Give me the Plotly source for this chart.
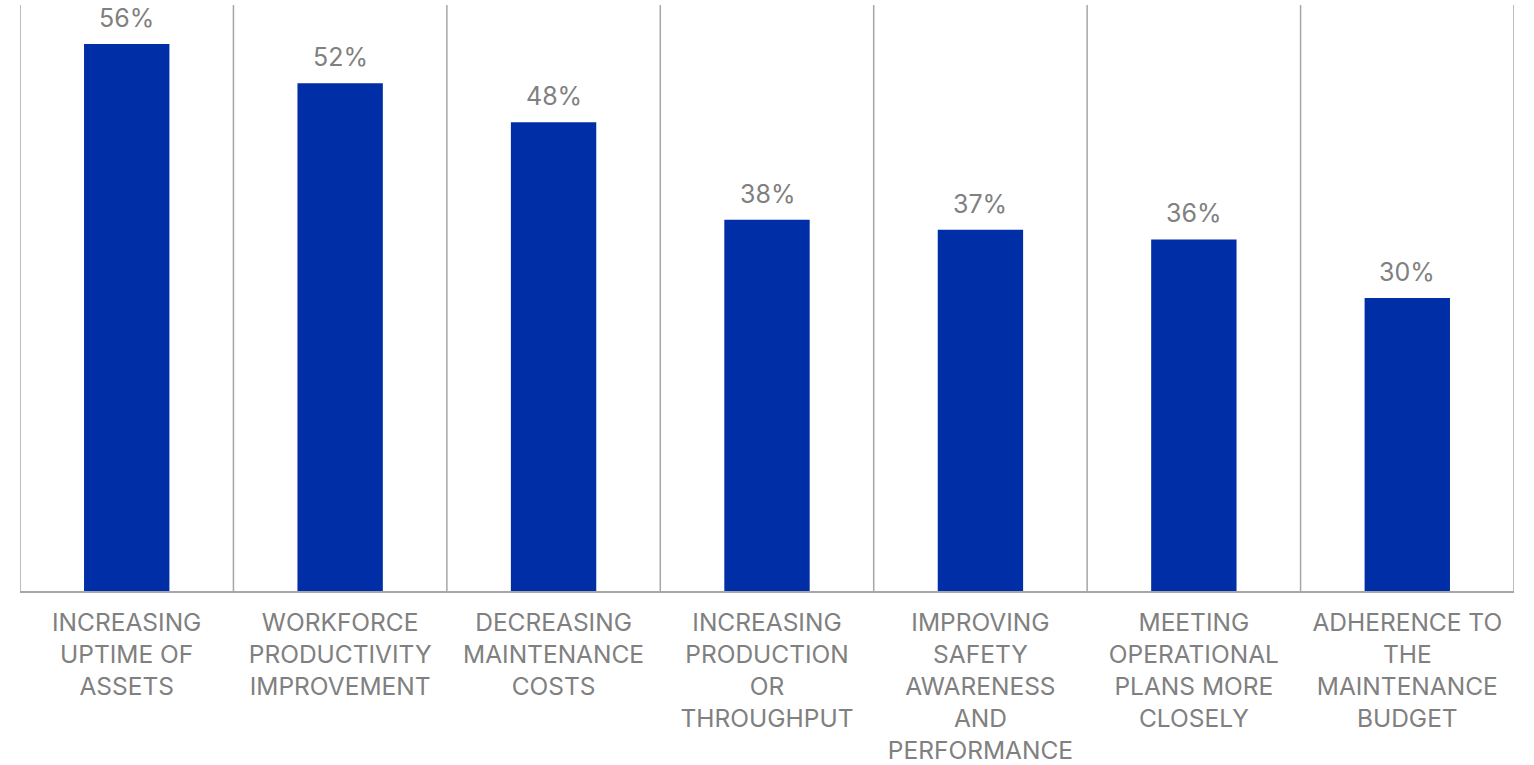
import plotly.graph_objects as go

categories = [
    "INCREASING<br>UPTIME OF<br>ASSETS",
    "WORKFORCE<br>PRODUCTIVITY<br>IMPROVEMENT",
    "DECREASING<br>MAINTENANCE<br>COSTS",
    "INCREASING<br>PRODUCTION<br>OR<br>THROUGHPUT",
    "IMPROVING<br>SAFETY<br>AWARENESS<br>AND<br>PERFORMANCE",
    "MEETING<br>OPERATIONAL<br>PLANS MORE<br>CLOSELY",
    "ADHERENCE TO<br>THE<br>MAINTENANCE<br>BUDGET",
]
values = [56, 52, 48, 38, 37, 36, 30]
value_labels = [f"{v}%" for v in values]

BAR_COLOR = "#002EA6"
TEXT_COLOR = "#808080"
LINE_COLOR = "#A6A6A6"
FONT = "Inter"

fig = go.Figure(
    go.Bar(
        x=list(range(len(categories))),
        y=values,
        marker=dict(color=BAR_COLOR, line=dict(width=0)),
        hoverinfo="skip",
    )
)

# percentage labels above each bar
for i, (v, lab) in enumerate(zip(values, value_labels)):
    fig.add_annotation(
        x=i, y=v, text=lab, showarrow=False, yanchor="bottom",
        yshift=9, font=dict(family=FONT, size=25, color=TEXT_COLOR),
    )

# vertical separators between categories
for k in range(len(categories) + 1):
    fig.add_shape(
        type="line", xref="x", yref="y",
        x0=k - 0.5, x1=k - 0.5, y0=0, y1=60,
        line=dict(color=LINE_COLOR, width=1.5), layer="below",
    )

fig.update_layout(
    width=1534, height=765,
    margin=dict(l=20, r=20, t=5, b=174),
    paper_bgcolor="white", plot_bgcolor="white",
    bargap=0.6, showlegend=False,
    font=dict(family=FONT, size=24.5, color=TEXT_COLOR),
)
fig.update_xaxes(
    tickmode="array", tickvals=list(range(len(categories))), ticktext=categories,
    range=[-0.5, len(categories) - 0.5], automargin=False,
    showline=True, linecolor=LINE_COLOR, linewidth=1.5,
    showgrid=False, zeroline=False, ticks="", ticklabelstandoff=9,
    tickfont=dict(family=FONT, size=24.5, color=TEXT_COLOR),
)
fig.update_yaxes(range=[0, 60], visible=False, showgrid=False, zeroline=False,
                 automargin=False)

fig.write_html("out.html")
